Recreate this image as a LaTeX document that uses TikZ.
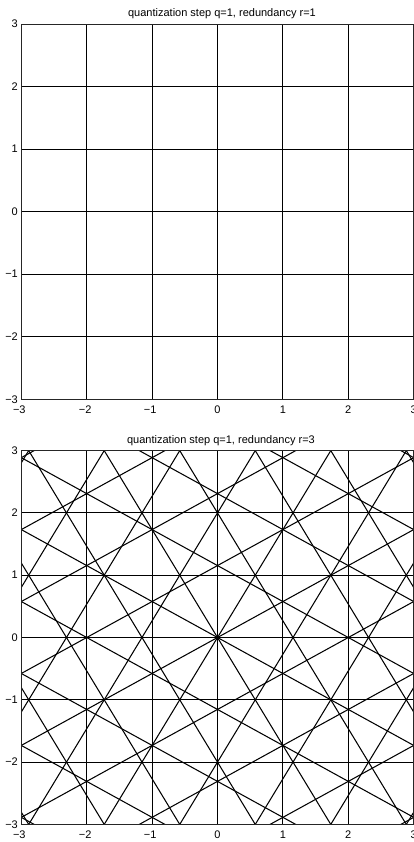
\documentclass[tikz,border=0pt]{standalone}
\usepackage{fontspec}
\setmainfont{Liberation Sans}
\begin{document}
\begin{tikzpicture}[x=1pt,y=-1pt,
  lbl/.style={font=\fontsize{11}{13}\selectfont, inner sep=0pt},
  ylbl/.style={lbl, anchor=east, xshift=-3.3pt},
  xlbl/.style={lbl, anchor=north, yshift=-6.5pt},
  ttl/.style={font=\fontsize{11}{13}\selectfont, inner sep=0pt, anchor=base},
  cellln/.style={line width=1.05pt, black},
  frameln/.style={line width=0.9pt, black!85},
]
\useasboundingbox (0,0) rectangle (413,842);

% titles
\node[ttl] (t1) at (222,16.8) {quantization step q=1, redundancy r=1};
\node[ttl] (t2) at (221,443) {quantization step q=1, redundancy r=3};

% ---------- top plot (r=1) ----------
\begin{scope}[shift={(217.5,211.65)}, x=65.4pt, y=62.55pt]
  \coordinate (aSW) at (-3,-3);
  \coordinate (aNE) at (3,3);
  \begin{scope}
    \clip (aSW) rectangle (aNE);
    \foreach \n in {-2,...,2}{
      \draw[cellln] (\n,-3) -- (\n,3);
      \draw[cellln] (-3,\n) -- (3,\n);
    }
  \end{scope}
  \draw[frameln] (aSW) rectangle (aNE);
  \foreach \k/\s/\d in {-3/−3/-2pt,-2/−2/-1.5pt,-1/−1/-2pt,0/0/0pt,1/1/0pt,2/2/0pt,3/3/0pt}{
    \node[ylbl] (ay\k) at (-3,\k) {\s};
    \node[xlbl, xshift=\d] (ax\k) at (\k,-3) {\s};
  }
\end{scope}

% ---------- bottom plot (r=3) ----------
\begin{scope}[shift={(217.5,637.5)}, x=65.4pt, y=62.3pt]
  \coordinate (bSW) at (-3,-3);
  \coordinate (bNE) at (3,3);
  \begin{scope}
    \clip (bSW) rectangle (bNE);
    \foreach \t in {0,30,...,150}{
      \foreach \n in {-5,...,5}{
        \draw[cellln] ({\n*cos(\t)-7*sin(\t)},{\n*sin(\t)+7*cos(\t)})
          -- ({\n*cos(\t)+7*sin(\t)},{\n*sin(\t)-7*cos(\t)});
      }
    }
  \end{scope}
  \draw[frameln] (bSW) rectangle (bNE);
  \foreach \k/\s/\d in {-3/−3/-2pt,-2/−2/-1.5pt,-1/−1/-2pt,0/0/0pt,1/1/0pt,2/2/0pt,3/3/0pt}{
    \node[ylbl] (by\k) at (-3,\k) {\s};
    \node[xlbl, xshift=\d] (bx\k) at (\k,-3) {\s};
  }
\end{scope}
\end{tikzpicture}
\end{document}
